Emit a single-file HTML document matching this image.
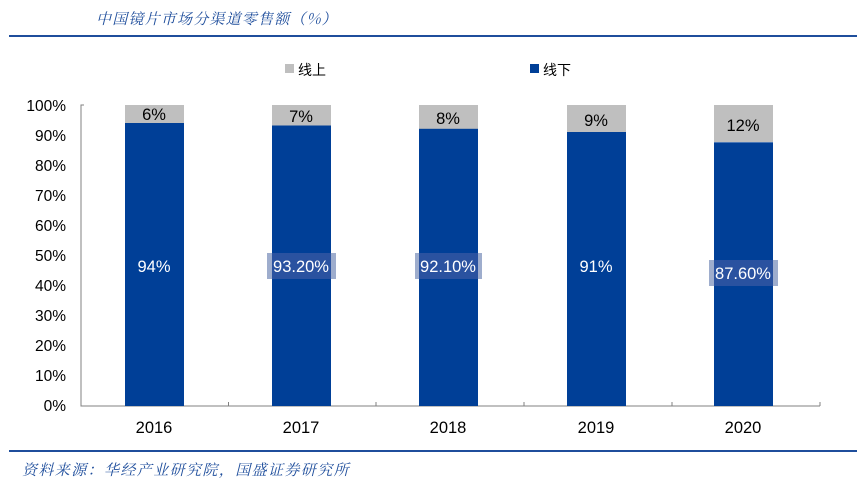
<!DOCTYPE html>
<html><head><meta charset="utf-8"><style>
body{margin:0;background:#fff;}
svg{display:block;}
</style></head><body>
<svg width="866" height="489" xmlns="http://www.w3.org/2000/svg" font-family="Liberation Sans, Noto Sans CJK SC, sans-serif">
<text x="96" y="24" font-size="15" font-style="italic" fill="#1f4e9c" font-family="Noto Serif CJK SC, serif" letter-spacing="1.2">中国镜片市场分渠道零售额（%）</text>
<rect x="9" y="35" width="848" height="2" fill="#1f4e9c"/>
<rect x="285" y="64" width="9" height="9" fill="#bfbfbf"/>
<text x="298" y="75" font-size="14" fill="#000" font-family="Noto Sans CJK SC, sans-serif">线上</text>
<rect x="530" y="64" width="9" height="9" fill="#003f97"/>
<text x="543" y="75" font-size="14" fill="#000" font-family="Noto Sans CJK SC, sans-serif">线下</text>
<g font-size="15.5" fill="#000" text-anchor="end">
<text x="66" y="111">100%</text><text x="66" y="141">90%</text><text x="66" y="171">80%</text><text x="66" y="201">70%</text><text x="66" y="231">60%</text><text x="66" y="261">50%</text><text x="66" y="291">40%</text><text x="66" y="321">30%</text><text x="66" y="351">20%</text><text x="66" y="381">10%</text><text x="66" y="411">0%</text>
</g>
<path d="M84 105H81V406H820M228.5 406v-4M376 406v-4M524 406v-4M672 406v-4M820 406v-4" stroke="#808080" fill="none"/>
<g>
<rect x="125" y="105" width="59" height="18" fill="#bfbfbf"/><rect x="125" y="123" width="59" height="283" fill="#003f97"/>
<rect x="272" y="105" width="59" height="21" fill="#bfbfbf"/><rect x="272" y="125.5" width="59" height="280.5" fill="#003f97"/>
<rect x="419" y="105" width="59" height="24" fill="#bfbfbf"/><rect x="419" y="128.8" width="59" height="277.2" fill="#003f97"/>
<rect x="567" y="105" width="59" height="27" fill="#bfbfbf"/><rect x="567" y="132" width="59" height="274" fill="#003f97"/>
<rect x="714" y="105" width="59" height="37" fill="#bfbfbf"/><rect x="714" y="142.3" width="59" height="263.7" fill="#003f97"/>
</g>
<rect x="267" y="253" width="69" height="26" fill="#8d9fc4" opacity="0.85"/><rect x="272" y="253" width="59" height="26" fill="#2a52a0"/>
<rect x="415" y="253" width="67" height="26" fill="#8d9fc4" opacity="0.85"/><rect x="419" y="253" width="59" height="26" fill="#2a52a0"/>
<rect x="709" y="260" width="69" height="26" fill="#8d9fc4" opacity="0.85"/><rect x="714" y="260" width="59" height="26" fill="#2a52a0"/>
<g font-size="16.5" text-anchor="middle" fill="#000">
<text x="154" y="120">6%</text><text x="301" y="122">7%</text><text x="448" y="124">8%</text><text x="596" y="126">9%</text><text x="743" y="131">12%</text>
</g>
<g font-size="16.5" text-anchor="middle" fill="#fff">
<text x="154" y="272">94%</text><text x="301" y="272">93.20%</text><text x="448" y="272">92.10%</text><text x="596" y="272">91%</text><text x="743" y="279">87.60%</text>
</g>
<g font-size="16.5" text-anchor="middle" fill="#000">
<text x="154" y="433">2016</text><text x="301" y="433">2017</text><text x="448" y="433">2018</text><text x="596" y="433">2019</text><text x="743" y="433">2020</text>
</g>
<rect x="9" y="450" width="848" height="2" fill="#1f4e9c"/>
<text x="22" y="475" font-size="15" font-style="italic" fill="#1f4e9c" font-family="Noto Serif CJK SC, serif" letter-spacing="1.4">资料来源：华经产业研究院，国盛证券研究所</text>
</svg>
</body></html>
